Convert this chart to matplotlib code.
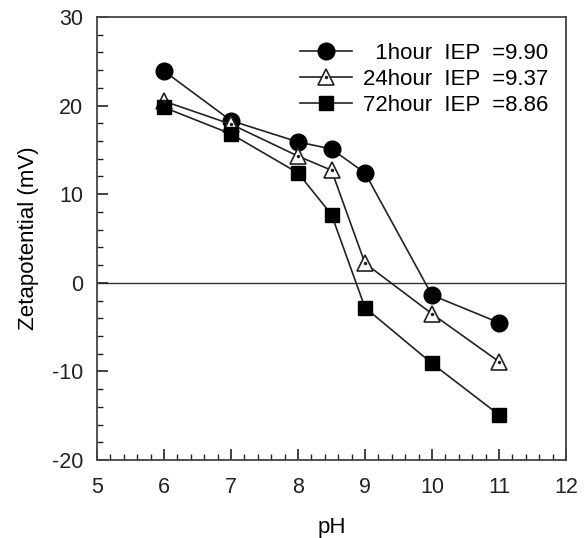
import matplotlib
matplotlib.use('Agg')
import matplotlib.pyplot as plt
from matplotlib.ticker import MultipleLocator
from matplotlib.legend_handler import HandlerTuple

plt.rcParams['font.family'] = ['Liberation Sans', 'DejaVu Sans']
plt.rcParams['axes.unicode_minus'] = False

ph = [6, 7, 8, 8.5, 9, 10, 11]
zeta_1h = [23.9, 18.3, 15.9, 15.1, 12.4, -1.4, -4.5]
zeta_24h = [20.5, 17.9, 14.3, 12.7, 2.2, -3.5, -8.9]
zeta_72h = [19.8, 16.8, 12.4, 7.7, -2.8, -9.1, -14.9]
labels = ['  1hour  IEP  =9.90', '24hour  IEP  =9.37', '72hour  IEP  =8.86']

fig = plt.figure(figsize=(5.88, 5.38), dpi=100)
ax = fig.add_axes([97 / 588, 1 - 460 / 538, 469 / 588, 443 / 538])

ax.axhline(0, color='#333333', lw=1.0, zorder=1)

l1, = ax.plot(ph, zeta_1h, '-o', color='#222222', mfc='black', mec='black', ms=12, lw=1.2, zorder=3)
l2, = ax.plot(ph, zeta_24h, '-^', color='#222222', mfc='white', mec='#222222', mew=1.2, ms=11, lw=1.2, zorder=3)
d2, = ax.plot(ph, zeta_24h, ls='none', marker='o', color='#222222', ms=1.5, zorder=4)
l3, = ax.plot(ph, zeta_72h, '-s', color='#222222', mfc='black', mec='black', ms=10.5, lw=1.2, zorder=3)

ax.set_xlim(5, 12)
ax.set_ylim(-20, 30)
ax.xaxis.set_major_locator(MultipleLocator(1))
ax.xaxis.set_minor_locator(MultipleLocator(0.2))
ax.yaxis.set_major_locator(MultipleLocator(10))
ax.yaxis.set_minor_locator(MultipleLocator(2))
ax.tick_params(which='both', direction='in', top=False, right=False, labelsize=15.5, colors='#222222')
ax.tick_params(which='major', length=8, width=1.2)
ax.tick_params(which='minor', length=4, width=1.0)
ax.tick_params(axis='x', which='major', pad=12)
ax.tick_params(axis='y', which='major', pad=10)
for s in ax.spines.values():
    s.set_linewidth(1.3)
    s.set_color('#444444')

ax.set_xlabel('pH', fontsize=16, labelpad=14)
ax.set_ylabel('Zetapotential (mV)', fontsize=16, labelpad=9)

ax.legend([l1, (l2, d2), l3], labels, handler_map={tuple: HandlerTuple(ndivide=1, pad=0)},
          loc='upper right', frameon=False, fontsize=16, handlelength=2.3, handletextpad=0.5,
          labelspacing=0.22, bbox_to_anchor=(548 / 588, 1 - 43 / 538), bbox_transform=fig.transFigure,
          borderaxespad=0, borderpad=0)

fig.savefig('out.png', dpi=100)
